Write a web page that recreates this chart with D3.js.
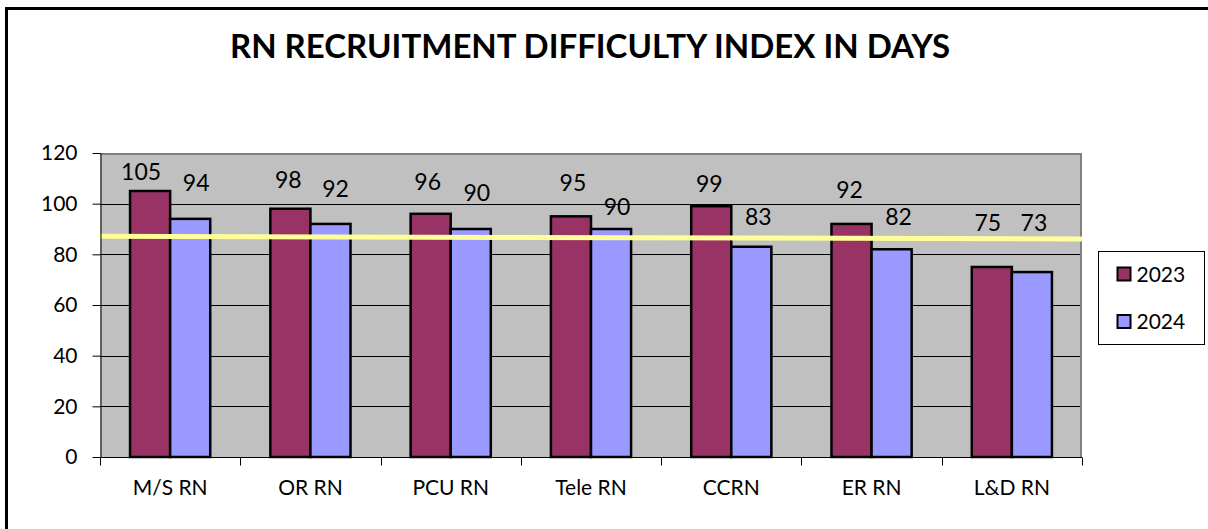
<!DOCTYPE html>
<html>
<head>
<meta charset="utf-8">
<script src="https://cdn.jsdelivr.net/npm/d3@7"></script>
<style>
  html, body { margin: 0; padding: 0; background: #fff; }
  svg { display: block; font-family: Lato, "Open Sans", sans-serif; }
</style>
</head>
<body>
<div id="chart"></div>
<script>
// data
var categories = ["M/S RN", "OR RN", "PCU RN", "Tele RN", "CCRN", "ER RN", "L&D RN"];
var seriesNames = ["2023", "2024"];
var values2023 = [105, 98, 96, 95, 99, 92, 75];
var values2024 = [94, 92, 90, 90, 83, 82, 73];
var yTicks = [0, 20, 40, 60, 80, 100, 120];
// the yellow reference line (value at left and right end of plot)
var targetLine = [87.1, 86.1];

// label placement in the original was nudged by hand: baseline in data units
var labelLevel2023 = [109.4, 106.2, 105.4, 105.1, 104.7, 102.1, 89.4];
var labelLevel2024 = [104.9, 102.8, 101.2, 95.5, 91.6, 91.4, 89.4];
var labelShift2023 = [-9, -2, -3, 2, -2, -2, -4];
var labelShift2024 = [6, 5, 6, 6, 7, 7, 2];

var colors = { "2023": "#993366", "2024": "#9999FF" };

var width = 1208, height = 529;
var plot = { left: 100, right: 1082, top: 153, bottom: 457 };

var svg = d3.select("#chart")
   .append("svg")
   .attr("width", width)
   .attr("height", height);

// outer frame (only left and top are in view)
svg.append("rect")
   .attr("x", 6.5).attr("y", 8.5)
   .attr("width", 1400).attr("height", 1000)
   .attr("fill", "none")
   .attr("stroke", "#000")
   .attr("stroke-width", 3);

// title
svg.append("text")
   .attr("x", 590).attr("y", 58)
   .attr("text-anchor", "middle")
   .style("font-size", "33px")
   .style("font-weight", "bold")
   .text("RN RECRUITMENT DIFFICULTY INDEX IN DAYS");

// scales
var x = d3.scaleBand()
   .domain(categories)
   .range([plot.left, plot.right])
   .padding(0);

var xInner = d3.scaleBand()
   .domain(seriesNames)
   .range([0, x.bandwidth()])
   .paddingInner(0)
   .paddingOuter(0.75);

var y = d3.scaleLinear()
   .domain([0, 120])
   .range([plot.bottom, plot.top]);

// plot area
svg.append("rect")
   .attr("x", plot.left).attr("y", plot.top)
   .attr("width", plot.right - plot.left)
   .attr("height", plot.bottom - plot.top)
   .attr("fill", "#C0C0C0");

// gridlines
svg.append("g")
   .selectAll("line")
   .data(yTicks.filter(function (d) { return d > 0 && d < 120; }))
   .enter()
   .append("line")
   .attr("x1", plot.left).attr("x2", plot.right)
   .attr("y1", function (d) { return Math.round(y(d)) + 0.5; })
   .attr("y2", function (d) { return Math.round(y(d)) + 0.5; })
   .attr("stroke", "#000")
   .attr("stroke-width", 1);

// top and right border of plot area
svg.append("path")
   .attr("d", "M" + plot.left + "," + (plot.top + 1) + "H" + (plot.right - 1) + "V" + plot.bottom)
   .attr("fill", "none")
   .attr("stroke", "#808080")
   .attr("stroke-width", 2);

// bars
var rows = categories.map(function (c, i) {
   return { cat: c, i: i, vals: [values2023[i], values2024[i]] };
});

var groups = svg.append("g")
   .selectAll("g")
   .data(rows)
   .enter()
   .append("g")
   .attr("transform", function (d) { return "translate(" + x(d.cat) + ",0)"; });

groups.selectAll("rect")
   .data(function (d) {
      return seriesNames.map(function (s, k) { return { s: s, v: d.vals[k] }; });
   })
   .enter()
   .append("rect")
   .attr("x", function (d) { return xInner(d.s); })
   .attr("y", function (d) { return y(d.v); })
   .attr("width", xInner.bandwidth())
   .attr("height", function (d) { return y(0) - y(d.v); })
   .attr("fill", function (d) { return colors[d.s]; })
   .attr("stroke", "#000")
   .attr("stroke-width", 2.5);

// yellow line
svg.append("line")
   .attr("x1", plot.left).attr("x2", plot.right)
   .attr("y1", y(targetLine[0])).attr("y2", y(targetLine[1]))
   .attr("stroke", "#FFFF99")
   .attr("stroke-width", 5);

// data labels
var labels = svg.append("g").style("font-size", "23px");
rows.forEach(function (d) {
   labels.append("text")
      .attr("x", x(d.cat) + xInner("2023") + xInner.bandwidth() / 2 + labelShift2023[d.i])
      .attr("y", y(labelLevel2023[d.i]))
      .attr("text-anchor", "middle")
      .text(values2023[d.i]);
   labels.append("text")
      .attr("x", x(d.cat) + xInner("2024") + xInner.bandwidth() / 2 + labelShift2024[d.i])
      .attr("y", y(labelLevel2024[d.i]))
      .attr("text-anchor", "middle")
      .text(values2024[d.i]);
});

// Y axis
var yAxis = svg.append("g")
   .attr("transform", "translate(" + (plot.left + 0.5) + ",0)")
   .call(d3.axisLeft(y).tickValues(yTicks).tickSize(8).tickSizeOuter(0).tickPadding(15));
yAxis.select(".domain").attr("stroke", "#000");
yAxis.selectAll("text")
   .style("font-size", "21px")
   .style("font-family", "Lato, sans-serif")
   .attr("fill", "#000");

// X axis: labels at category centres, ticks at category edges
var xAxis = svg.append("g")
   .attr("transform", "translate(0," + (plot.bottom + 0.5) + ")")
   .call(d3.axisBottom(x).tickSize(0).tickSizeOuter(0).tickPadding(23));
xAxis.select(".domain").attr("stroke", "#000").attr("d", "M" + plot.left + ",0H" + plot.right);
xAxis.selectAll("text")
   .style("font-size", "21px")
   .style("font-family", "Lato, sans-serif")
   .attr("fill", "#000");

var edges = categories.map(function (c) { return x(c); }).concat([plot.right]);
xAxis.selectAll(".edge")
   .data(edges)
   .enter()
   .append("line")
   .attr("class", "edge")
   .attr("x1", function (d) { return Math.round(d) + 0.5; })
   .attr("x2", function (d) { return Math.round(d) + 0.5; })
   .attr("y1", 0).attr("y2", 8)
   .attr("stroke", "#000");

// legend
var legend = svg.append("g").attr("transform", "translate(1098.5,251.5)");
legend.append("rect")
   .attr("width", 106).attr("height", 93)
   .attr("fill", "#fff")
   .attr("stroke", "#000")
   .attr("stroke-width", 1);

var items = legend.selectAll(".item")
   .data(seriesNames)
   .enter()
   .append("g")
   .attr("class", "item")
   .attr("transform", function (d, i) { return "translate(19," + (16 + i * 47.5) + ")"; });

items.append("rect")
   .attr("width", 13).attr("height", 13)
   .attr("fill", function (d) { return colors[d]; })
   .attr("stroke", "#000")
   .attr("stroke-width", 2);

items.append("text")
   .attr("x", 19).attr("y", 14)
   .style("font-size", "21px")
   .text(function (d) { return d; });
</script>
</body>
</html>
